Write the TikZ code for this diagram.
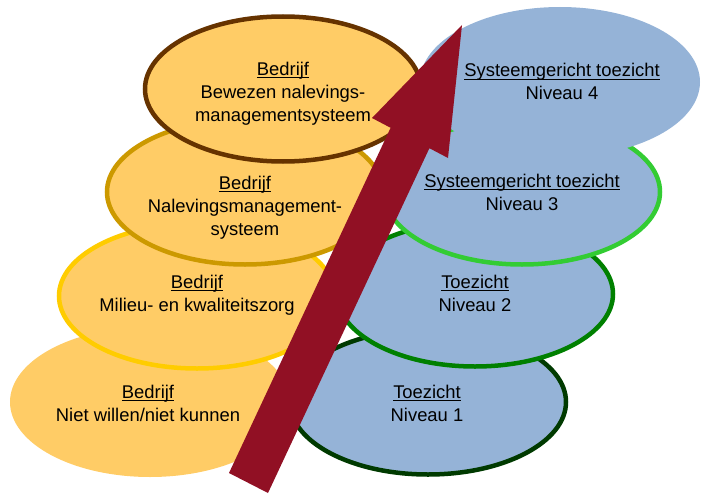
\documentclass[tikz,border=0pt]{standalone}
\usepackage{fontspec}
\setmainfont{Liberation Sans}
\usetikzlibrary{shapes.geometric}
\newsavebox\ulbox
\newcommand\myul[1]{\sbox\ulbox{#1}\rlap{\rule[-2.8pt]{\wd\ulbox}{1.1pt}}\usebox\ulbox}
\definecolor{orfill}{HTML}{FFCC66}
\definecolor{blfill}{HTML}{95B3D7}
\definecolor{arrowred}{HTML}{911024}
\definecolor{brownb}{HTML}{663300}
\definecolor{goldb}{HTML}{CC9900}
\definecolor{yellowb}{HTML}{FFCC00}
\definecolor{dgreenb}{HTML}{003A00}
\definecolor{greenb}{HTML}{008000}
\definecolor{lgreenb}{HTML}{33CC33}
\begin{document}
\begin{tikzpicture}[x=1pt,y=-1pt,
  oval/.style={ellipse, minimum width=280pt, minimum height=150pt, inner sep=0pt},
  bordered/.style={oval, minimum width=276pt, minimum height=145pt, line width=4.5pt},
  lbl/.style={anchor=base, inner sep=0pt, font=\fontsize{18.4}{23}\selectfont}]
\useasboundingbox (0,0) rectangle (704,495);
% left (company) ellipses
\node[oval, fill=orfill] (e1) at (150,402) {};
\node[bordered, fill=orfill, draw=yellowb] (e2) at (197,296) {};
\node[bordered, fill=orfill, draw=goldb] (e3) at (245,192) {};
\node[bordered, fill=orfill, draw=brownb] (e4) at (283,89) {};
% right (supervision) ellipses
\node[bordered, fill=blfill, draw=dgreenb] (r1) at (428,402) {};
\node[bordered, fill=blfill, draw=greenb] (r2) at (475,294) {};
\node[bordered, fill=blfill, draw=lgreenb] (r3) at (522,192) {};
\node[oval, fill=blfill] (r4) at (560,82) {};
% labels
\node[lbl] (t1) at (148,398) {\begin{tabular}[t]{@{}c@{}}\myul{Bedrijf}\\Niet willen/niet kunnen\end{tabular}};
\node[lbl] (t2) at (197,288) {\begin{tabular}[t]{@{}c@{}}\myul{Bedrijf}\\Milieu- en kwaliteitszorg\end{tabular}};
\node[lbl] (t3) at (245,189) {\begin{tabular}[t]{@{}c@{}}\myul{Bedrijf}\\Nalevingsmanagement-\\systeem\end{tabular}};
\node[lbl] (t4) at (283,75) {\begin{tabular}[t]{@{}c@{}}\myul{Bedrijf}\\Bewezen nalevings-\\managementsysteem\end{tabular}};
\node[lbl] (s1) at (427,398) {\begin{tabular}[t]{@{}c@{}}\myul{Toezicht}\\Niveau 1\end{tabular}};
\node[lbl] (s2) at (475,288) {\begin{tabular}[t]{@{}c@{}}\myul{Toezicht}\\Niveau 2\end{tabular}};
\node[lbl] (s3) at (522,187) {\begin{tabular}[t]{@{}c@{}}\myul{Systeemgericht toezicht}\\Niveau 3\end{tabular}};
\node[lbl] (s4) at (562,77) {\begin{tabular}[t]{@{}c@{}}\myul{Systeemgericht toezicht}\\Niveau 4\end{tabular}};
% big arrow
\fill[arrowred] (229,473) -- (390.6,127.8) -- (372,118) -- (462,25) -- (448,158) -- (429.4,148.2) -- (268,493) -- cycle;
\end{tikzpicture}
\end{document}
